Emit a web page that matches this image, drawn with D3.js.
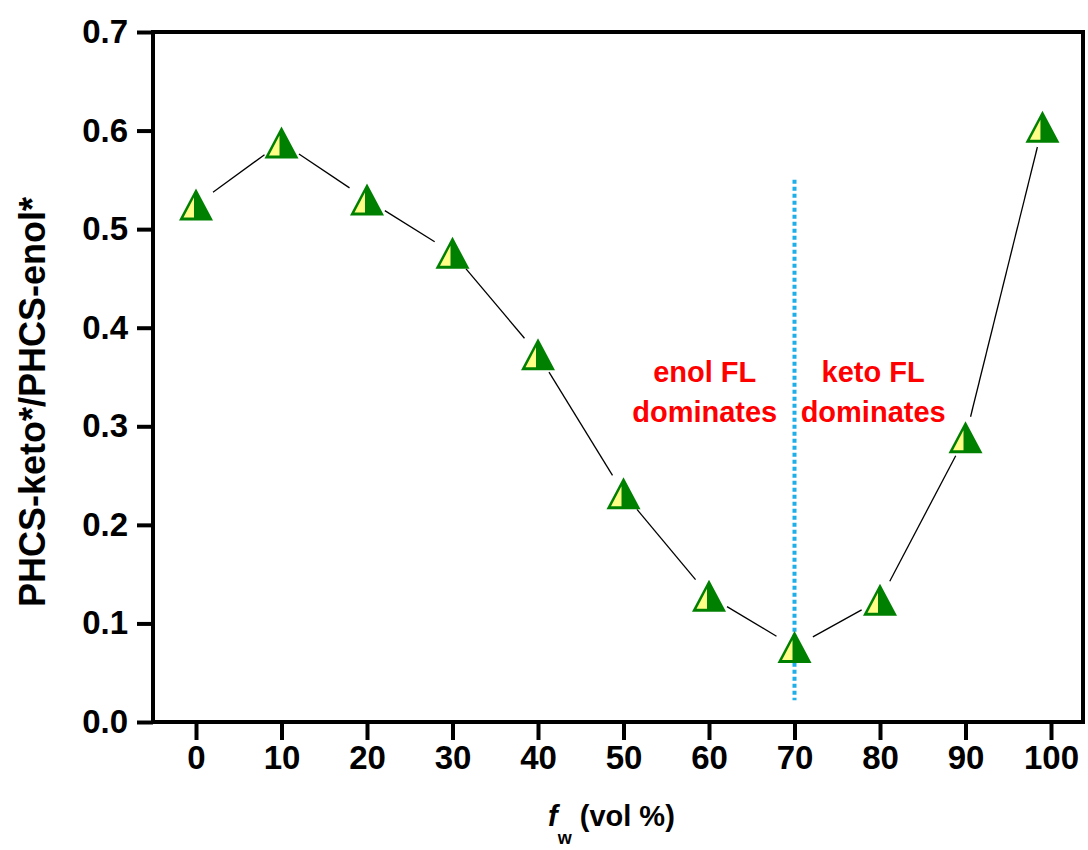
<!DOCTYPE html>
<html>
<head>
<meta charset="utf-8">
<script src="https://cdn.jsdelivr.net/npm/d3@7"></script>
<style>
  body { margin: 0; background: #fff; }
  svg { display: block; }
  text { font-family: "Liberation Sans", Arial, sans-serif; font-weight: bold; }
</style>
</head>
<body>
<svg></svg>
<script>
const fw = [0, 10, 20, 30, 40, 50, 60, 70, 80, 90, 99];
const ratio = [0.525, 0.588, 0.530, 0.476, 0.373, 0.232, 0.128, 0.076, 0.124, 0.289, 0.604];
const xTicks = [0, 10, 20, 30, 40, 50, 60, 70, 80, 90, 100];
const yTicks = [0, 0.1, 0.2, 0.3, 0.4, 0.5, 0.6, 0.7];
const divider = {x: 70, y0: 0.022, y1: 0.55};
const notes = [
  {x: 59.5, lines: ["enol FL", "dominates"]},
  {x: 79.2, lines: ["keto FL", "dominates"]}
];

const svg = d3.select("svg")
    .attr("width", 1088)
    .attr("height", 850);

const x = d3.scaleLinear().domain([0, 100]).range([196, 1051]);
const y = d3.scaleLinear().domain([0, 0.7]).range([722, 32]);
const left = 153, right = 1083;

// y axis with ticks
const yAxis = svg.append("g")
    .attr("transform", `translate(${left},0)`)
    .call(d3.axisLeft(y).tickValues(yTicks).tickFormat(d3.format(".1f")).tickSize(16).tickPadding(9));

const xAxis = svg.append("g")
    .attr("transform", `translate(0,${y(0)})`)
    .call(d3.axisBottom(x).tickValues(xTicks).tickSize(18).tickPadding(6));

[yAxis, xAxis].forEach(a => {
  a.select(".domain").remove();
  a.selectAll(".tick line").attr("stroke", "#000").attr("stroke-width", 4);
  a.selectAll(".tick text").attr("fill", "#000").style("font-size", "33px");
});

// frame
svg.append("rect")
    .attr("x", left)
    .attr("y", y(0.7))
    .attr("width", right - left)
    .attr("height", y(0) - y(0.7))
    .attr("fill", "none")
    .attr("stroke", "#000")
    .attr("stroke-width", 4);

// divider line
svg.append("line")
    .attr("x1", x(divider.x)).attr("x2", x(divider.x))
    .attr("y1", y(divider.y1)).attr("y2", y(divider.y0))
    .attr("stroke", "#1eaee8")
    .attr("stroke-width", 4)
    .attr("stroke-dasharray", "4,3");

// connecting segments, shortened so they stop short of the markers
const pts = fw.map((d, i) => [x(d), y(ratio[i])]);
const gap = 21;
const segs = d3.pairs(pts).map(([a, b]) => {
  const dx = b[0] - a[0], dy = b[1] - a[1];
  const len = Math.hypot(dx, dy);
  const ux = dx / len, uy = dy / len;
  return [a[0] + ux * gap, a[1] + uy * gap, b[0] - ux * gap, b[1] - uy * gap];
});
svg.append("g").selectAll("line")
    .data(segs)
    .enter()
    .append("line")
      .attr("x1", d => d[0]).attr("y1", d => d[1])
      .attr("x2", d => d[2]).attr("y2", d => d[3])
      .attr("stroke", "#000")
      .attr("stroke-width", 1.3);

// triangle markers
const hw = 17, hh = 16;
const markers = svg.append("g").selectAll("g")
    .data(pts)
    .enter()
    .append("g")
      .attr("transform", d => `translate(${d[0]},${d[1]})`);
markers.append("path")
    .attr("d", `M0,${-hh}L${hw},${hh}L${-hw},${hh}Z`)
    .attr("fill", "#008000");
markers.append("path")
    .attr("d", `M${-12.5},${hh - 3}L${-2},${hh - 3}L${-2},${-7}Z`)
    .attr("fill", "#ffff88");

// annotations
notes.forEach(n => {
  const t = svg.append("text")
      .attr("text-anchor", "middle")
      .attr("fill", "#ff0000")
      .style("font-size", "29px");
  n.lines.forEach((l, i) => {
    t.append("tspan")
        .attr("x", x(n.x))
        .attr("y", 382 + i * 40)
        .text(l);
  });
});

// axis titles
svg.append("text")
    .attr("transform", "translate(45,402) rotate(-90)")
    .attr("text-anchor", "middle")
    .attr("fill", "#000")
    .style("font-size", "36px")
    .text("PHCS-keto*/PHCS-enol*");

const xl = svg.append("text")
    .attr("x", 548)
    .attr("y", 826)
    .attr("fill", "#000")
    .style("font-size", "29px");
xl.append("tspan").style("font-style", "italic").text("f");
xl.append("tspan").attr("dy", 18).style("font-size", "18px").text("w");
xl.append("tspan").attr("dy", -18).text(" (vol %)");
</script>
</body>
</html>
